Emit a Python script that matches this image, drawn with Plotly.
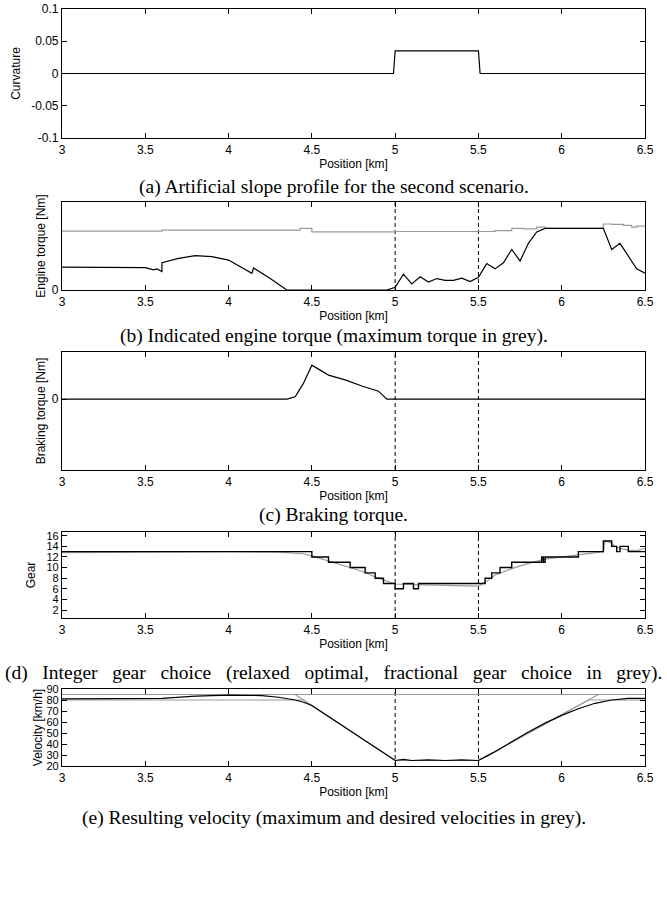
import plotly.graph_objects as go

# ---------------- data ----------------
pos_range = [3.0, 6.5]
section_bounds = [5.0, 5.5]

curv_x = [3.0, 4.99, 5.0, 5.5, 5.51, 6.5]
curv_y = [0.0, 0.0, 0.035, 0.035, 0.0, 0.0]

torque_x = [3.0, 3.5, 3.55, 3.57, 3.6, 3.6, 3.7, 3.8, 3.9, 4.0, 4.14, 4.15, 4.25, 4.35,
            4.95, 5.0, 5.05, 5.1, 5.15, 5.2, 5.25, 5.3, 5.35, 5.4, 5.45, 5.5, 5.55, 5.6,
            5.65, 5.7, 5.75, 5.8, 5.85, 5.9, 6.25, 6.3, 6.35, 6.4, 6.45, 6.5]
torque_y = [0.26, 0.255, 0.23, 0.24, 0.21, 0.31, 0.36, 0.39, 0.38, 0.34, 0.19, 0.25, 0.13, 0.0,
            0.0, 0.03, 0.18, 0.07, 0.15, 0.09, 0.13, 0.11, 0.11, 0.135, 0.095, 0.145, 0.30, 0.24,
            0.31, 0.46, 0.33, 0.53, 0.66, 0.70, 0.70, 0.46, 0.53, 0.38, 0.24, 0.19]

maxtorque_x = [3.0, 3.6, 4.43, 4.5, 5.0, 5.6, 5.7, 5.77, 5.85, 5.9, 6.25, 6.3, 6.37, 6.42, 6.45, 6.5]
maxtorque_y = [0.67, 0.68, 0.70, 0.66, 0.665, 0.675, 0.70, 0.695, 0.715, 0.70, 0.75, 0.745, 0.735, 0.715, 0.725, 0.725]

brake_x = [3.0, 4.35, 4.4, 4.45, 4.5, 4.6, 4.7, 4.8, 4.9, 4.95, 6.5]
brake_y = [0.0, 0.0, 0.05, 0.34, 0.72, 0.51, 0.41, 0.28, 0.17, 0.0, 0.0]

gear_x = [3.0, 4.5, 4.6, 4.73, 4.82, 4.88, 4.93, 5.0, 5.05, 5.11, 5.14, 5.54, 5.58, 5.63,
          5.7, 5.8, 5.88, 5.89, 5.9, 6.1, 6.25, 6.3, 6.33, 6.35, 6.4, 6.5]
gear_y = [13, 12, 11, 10, 9, 8, 7, 6, 7, 6, 7, 8, 9, 10,
          11, 11, 12, 11, 12, 13, 15, 14, 13, 14, 13, 13]

relgear_x = [3.0, 3.5, 4.0, 4.3, 4.45, 4.5, 4.6, 4.7, 4.8, 4.9, 5.0, 5.1, 5.3, 5.5, 5.55, 5.6,
             5.7, 5.8, 5.9, 6.0, 6.1, 6.2, 6.25, 6.26, 6.3, 6.32, 6.35, 6.4, 6.45, 6.5]
relgear_y = [12.8, 12.9, 13.0, 12.9, 12.6, 12.2, 11.2, 10.3, 9.3, 8.0, 6.9, 6.8, 6.6, 6.5, 7.4, 8.6,
             9.8, 10.8, 11.6, 12.0, 12.4, 12.8, 13.0, 15.0, 14.6, 14.0, 13.6, 13.3, 13.2, 13.6]

vel_x = [3.0, 3.3, 3.6, 3.8, 4.0, 4.2, 4.3, 4.4, 4.45, 4.5, 4.6, 4.7, 4.8, 4.9, 5.0, 5.05,
         5.1, 5.2, 5.3, 5.4, 5.5, 5.55, 5.6, 5.7, 5.8, 5.9, 6.0, 6.1, 6.2, 6.3, 6.4, 6.5]
vel_y = [81, 81, 81.5, 83.5, 84.5, 84, 82.5, 80, 78, 75, 65, 55, 45, 35, 25, 26,
         25, 25.5, 25, 25.5, 25, 29, 33, 42, 51, 59, 66, 72, 77, 80, 81.5, 81.5]

vlimit_x = [3.0, 6.5]
vlimit_y = [85, 85]
vmax_x = [3.0, 4.4, 5.0, 5.5, 6.22, 6.5]
vmax_y = [85, 85, 25, 25, 85, 85]
vdes_x = [3.0, 4.45, 5.0, 5.5, 6.16, 6.5]
vdes_y = [80, 80, 25, 25, 80, 80]

captions = [
    "(a) Artificial slope profile for the second scenario.",
    "(b) Indicated engine torque (maximum torque in grey).",
    "(c) Braking torque.",
    "(d) Integer gear choice (relaxed optimal, fractional gear choice in grey).",
    "(e) Resulting velocity (maximum and desired velocities in grey).",
]
# caption (d) is justified to the full column width in the reference (wider word spacing)
caption_extra_space = [0, 0, 0, 2, 0]

# ---------------- layout geometry (pixels) ----------------
W, H = 667, 904
x_left, x_right = 62, 645
boxes = [(9, 138), (202, 290), (352, 470), (532, 618), (689, 766)]
caption_y = [187, 336, 515, 673, 818]
ytitle_standoff = [7, 3, 3, 8, 1]
ytick_size = [12, 12, 12, 11, 11]

BLACK = "#000000"
GREY = "#9a9a9a"
SANS = "Liberation Sans, Arial, sans-serif"
SERIF = "Liberation Serif, Times New Roman, serif"

fig = go.Figure()

def ln(x, y, k, color, shape="linear", width=1.2):
    fig.add_trace(go.Scatter(x=x, y=y, mode="lines", line=dict(color=color, width=width, shape=shape),
                             xaxis="x" if k == 1 else f"x{k}", yaxis="y" if k == 1 else f"y{k}",
                             showlegend=False, hoverinfo="skip"))

ln(curv_x, curv_y, 1, BLACK)
ln(maxtorque_x, maxtorque_y, 2, GREY, shape="hv")
ln(torque_x, torque_y, 2, BLACK)
ln(brake_x, brake_y, 3, BLACK)
ln(relgear_x, relgear_y, 4, GREY)
ln(gear_x, gear_y, 4, BLACK, shape="hv", width=1.4)
ln(vlimit_x, vlimit_y, 5, GREY)
ln(vmax_x, vmax_y, 5, GREY)
ln(vdes_x, vdes_y, 5, GREY)
ln(vel_x, vel_y, 5, BLACK)

yaxes_spec = [
    dict(title="Curvature", range=[-0.1, 0.1], tickvals=[-0.1, -0.05, 0, 0.05, 0.1],
         ticktext=["-0.1", "-0.05", "0", "0.05", "0.1"]),
    dict(title="Engine torque [Nm]", range=[0, 1], tickvals=[0], ticktext=["0"]),
    dict(title="Braking torque [Nm]", range=[-1.5, 1], tickvals=[0], ticktext=["0"]),
    dict(title="Gear", range=[0.5, 16.7], tickvals=[2, 4, 6, 8, 10, 12, 14, 16]),
    dict(title="Velocity [km/h]", range=[20, 90], tickvals=[20, 30, 40, 50, 60, 70, 80, 90]),
]

xticks = [3, 3.5, 4, 4.5, 5, 5.5, 6, 6.5]
xtext = ["3", "3.5", "4", "4.5", "5", "5.5", "6", "6.5"]

layout = dict(width=W, height=H, margin=dict(l=0, r=0, t=0, b=0),
              paper_bgcolor="white", plot_bgcolor="white", showlegend=False,
              font=dict(family=SANS, size=12, color="black"))

common = dict(showgrid=False, zeroline=False, showline=True, linecolor="black", linewidth=1.2,
              mirror="allticks", ticks="inside", ticklen=5, tickwidth=1, tickcolor="black",
              automargin=False)

for i, (top, bot) in enumerate(boxes):
    k = i + 1
    xs = "" if k == 1 else str(k)
    ydom = [1 - bot / H, 1 - top / H]
    layout["xaxis" + xs] = dict(common, domain=[x_left / W, x_right / W], anchor="y" + xs,
                                range=pos_range, tickvals=xticks, ticktext=xtext,
                                tickfont=dict(family=SANS, size=12, color="black"),
                                title=dict(text="Position [km]", font=dict(family=SANS, size=12), standoff=4))
    spec = yaxes_spec[i]
    ya = dict(common, domain=ydom, anchor="x" + xs, range=spec["range"], tickvals=spec["tickvals"],
              tickfont=dict(family=SANS, size=ytick_size[i], color="black"),
              title=dict(text=spec["title"], font=dict(family=SANS, size=12), standoff=ytitle_standoff[i]))
    if "ticktext" in spec:
        ya["ticktext"] = spec["ticktext"]
    layout["yaxis" + xs] = ya

fig.update_layout(**layout)

# dashed section boundaries in panels b-e
for k in range(2, 6):
    for xb in section_bounds:
        fig.add_shape(type="line", xref=f"x{k}", yref=f"y{k} domain", x0=xb, x1=xb, y0=0, y1=1,
                      line=dict(color="black", width=1, dash="4px,3px"), layer="below")

for cap, cy, extra in zip(captions, caption_y, caption_extra_space):
    text = cap.replace(" ", " " + "\u00a0" * extra) if extra else cap
    fig.add_annotation(text=text, xref="paper", yref="paper", x=0.5, y=1 - cy / H,
                       xanchor="center", yanchor="middle", showarrow=False,
                       font=dict(family=SERIF, size=19.5, color="black"))

fig.write_html("out.html")
